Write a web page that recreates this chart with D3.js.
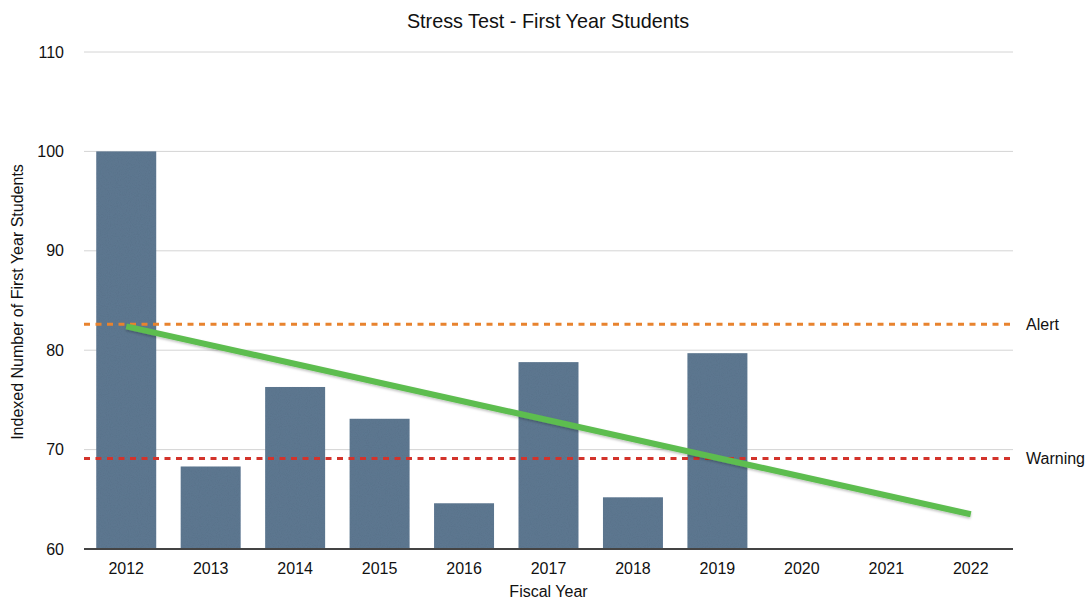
<!DOCTYPE html>
<html>
<head>
<meta charset="utf-8">
<script src="https://cdn.jsdelivr.net/npm/d3@7"></script>
<style>
  body { margin: 0; background: #fff; }
  text { font-family: "Helvetica Neue", "Liberation Sans", Arial, sans-serif; fill: #111; }
</style>
</head>
<body>
<svg id="chart" width="1087" height="602"></svg>
<script>
const years = ['2012', '2013', '2014', '2015', '2016', '2017', '2018', '2019', '2020', '2021', '2022']
const barYears = ['2012', '2013', '2014', '2015', '2016', '2017', '2018', '2019']
const values = [100, 68.3, 76.3, 73.1, 64.6, 78.8, 65.2, 79.7]
const yTicks = [60, 70, 80, 90, 100, 110]
const trendYears = ['2012', '2022']
const trendValues = [82.4, 63.5]
const thresholds = [
    {name: 'Alert', value: 82.6, color: '#e8832e'},
    {name: 'Warning', value: 69.1, color: '#d3332b'}
]

const svg = d3.select('#chart')
const margin = {left: 84, right: 74, top: 52, bottom: 53}
const width = 1087 - margin.left - margin.right
const height = 602 - margin.top - margin.bottom

// bar texture
const defs = svg.append('defs')
const filt = defs.append('filter').attr('id', 'paper')
filt.append('feTurbulence').attr('type', 'fractalNoise').attr('baseFrequency', 0.9).attr('numOctaves', 2).attr('result', 'noise')
filt.append('feColorMatrix').attr('in', 'noise').attr('type', 'matrix')
    .attr('values', '0 0 0 0 0  0 0 0 0 0  0 0 0 0 0  0 0 0 0.12 0').attr('result', 'dark')
filt.append('feComposite').attr('in', 'dark').attr('in2', 'SourceGraphic').attr('operator', 'in').attr('result', 'tex')
const merge = filt.append('feMerge')
merge.append('feMergeNode').attr('in', 'SourceGraphic')
merge.append('feMergeNode').attr('in', 'tex')

const shadow = defs.append('filter').attr('id', 'shadow').attr('x', '-5%').attr('y', '-50%').attr('width', '110%').attr('height', '200%')
shadow.append('feDropShadow').attr('dx', 0).attr('dy', 1.5).attr('stdDeviation', 1.2).attr('flood-color', '#000').attr('flood-opacity', 0.25)

const g = svg.append('g').attr('transform', 'translate(' + margin.left + ',' + margin.top + ')')

const xScale = d3.scaleBand().domain(years).range([0, width]).paddingInner(0.29).paddingOuter(0.145)
const yScale = d3.scaleLinear().domain([60, 110]).range([height, 0])

// gridlines
g.append('g').selectAll('line')
    .data(yTicks.slice(1))
    .join('line')
    .attr('x1', 0).attr('x2', width)
    .attr('y1', d => yScale(d)).attr('y2', d => yScale(d))
    .attr('stroke', '#d4d4d4').attr('stroke-width', 1)

// y tick labels
g.append('g').selectAll('text')
    .data(yTicks)
    .join('text')
    .attr('x', -20).attr('y', d => yScale(d))
    .attr('dy', '0.35em')
    .attr('text-anchor', 'end')
    .style('font-size', '16px')
    .text(d => d)

// bars
g.append('g').selectAll('rect')
    .data(barYears.map((y, i) => ({year: y, value: values[i]})))
    .join('rect')
    .attr('x', d => xScale(d.year))
    .attr('width', xScale.bandwidth())
    .attr('y', d => yScale(d.value))
    .attr('height', d => height - yScale(d.value))
    .attr('fill', '#5e7993')
    .attr('filter', 'url(#paper)')

// x axis
g.append('line')
    .attr('x1', 0).attr('x2', width)
    .attr('y1', height).attr('y2', height)
    .attr('stroke', '#444').attr('stroke-width', 2)

g.append('g').selectAll('text')
    .data(years)
    .join('text')
    .attr('x', d => xScale(d) + xScale.bandwidth() / 2)
    .attr('y', height + 25)
    .attr('text-anchor', 'middle')
    .style('font-size', '16px')
    .text(d => d)

// threshold lines
thresholds.forEach(t => {
    g.append('line')
        .attr('x1', 0).attr('x2', width)
        .attr('y1', yScale(t.value)).attr('y2', yScale(t.value))
        .attr('stroke', t.color).attr('stroke-width', 3)
        .attr('stroke-dasharray', '6,5.5')
    g.append('text')
        .attr('x', width + 13).attr('y', yScale(t.value))
        .attr('dy', '0.35em')
        .style('font-size', '16px')
        .text(t.name)
})

// trend line
const line = d3.line()
    .x((d, i) => xScale(trendYears[i]) + xScale.bandwidth() / 2)
    .y(d => yScale(d))
g.append('path')
    .datum(trendValues)
    .attr('d', line)
    .attr('fill', 'none')
    .attr('stroke', '#5dbd4f')
    .attr('stroke-width', 6)
    .attr('filter', 'url(#shadow)')

// titles
svg.append('text')
    .attr('x', 548).attr('y', 28)
    .attr('text-anchor', 'middle')
    .style('font-size', '19.8px')
    .text('Stress Test - First Year Students')

svg.append('text')
    .attr('x', margin.left + width / 2).attr('y', 597)
    .attr('text-anchor', 'middle')
    .style('font-size', '16px')
    .text('Fiscal Year')

svg.append('text')
    .attr('transform', 'translate(' + 23 + ',' + 302 + ') rotate(-90)')
    .attr('text-anchor', 'middle')
    .style('font-size', '16px')
    .text('Indexed Number of First Year Students')
</script>
</body>
</html>
